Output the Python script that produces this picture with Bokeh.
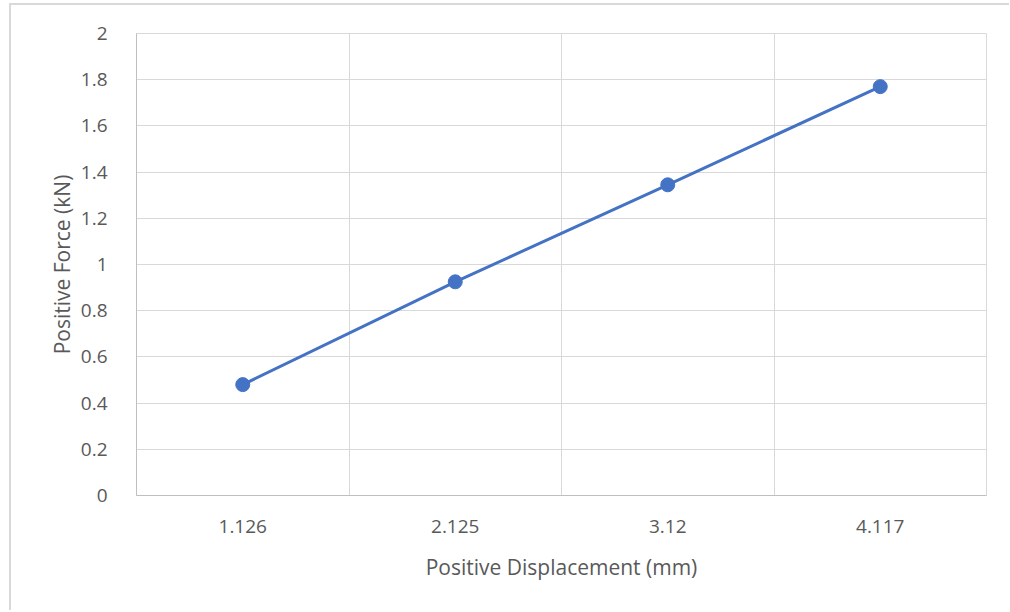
from bokeh.plotting import figure
from bokeh.models import Range1d, FixedTicker, CustomJSTickFormatter, ColumnDataSource
from bokeh.embed import file_html
from bokeh.resources import INLINE

categories = ["1.126", "2.125", "3.12", "4.117"]
force_kn = [0.48, 0.925, 1.345, 1.77]
y_ticks = [0, 0.2, 0.4, 0.6, 0.8, 1.0, 1.2, 1.4, 1.6, 1.8, 2.0]

pos = list(range(1, len(categories) + 1))
src = ColumnDataSource(dict(x=pos, y=force_kn, cat=categories))

FONT = "Open Sans"
TXT = "#595959"

p = figure(width=1000, height=607, output_backend="svg", toolbar_location=None,
           x_range=Range1d(0.5, len(categories) + 0.5), y_range=Range1d(0, 2))
p.styles = {"margin-left": "9px", "margin-top": "3px",
            "border-left": "2px solid #d9d9d9", "border-top": "2px solid #d9d9d9"}
p.min_border_left = 125
p.min_border_right = 25
p.min_border_top = 28
p.min_border_bottom = 117
p.outline_line_color = "#d9d9d9"
p.outline_line_width = 1
p.background_fill_color = "white"
p.border_fill_color = "white"

p.line("x", "y", source=src, line_color="#4472C4", line_width=3)
p.scatter("x", "y", source=src, size=14, fill_color="#4472C4", line_color="#4472C4")

p.xaxis.ticker = FixedTicker(ticks=pos)
p.xaxis.major_label_overrides = {i: c for i, c in zip(pos, categories)}
p.xaxis.major_tick_line_color = None
p.xaxis.minor_tick_line_color = None
p.xaxis.axis_line_color = "#bfbfbf"
p.xaxis.axis_line_width = 1
p.xaxis.major_label_standoff = 18
p.xaxis.axis_label = "Positive Displacement (mm)"
p.xaxis.axis_label_standoff = 17

p.yaxis.ticker = FixedTicker(ticks=y_ticks)
p.yaxis.formatter = CustomJSTickFormatter(code="return tick.toFixed(1).replace(/\\.0$/, '');")
p.yaxis.major_tick_line_color = None
p.yaxis.minor_tick_line_color = None
p.yaxis.axis_line_color = "#bfbfbf"
p.yaxis.major_label_standoff = 23
p.yaxis.axis_label = "Positive Force (kN)"
p.yaxis.axis_label_standoff = 2

for ax in (p.xaxis, p.yaxis):
    ax.major_label_text_font = FONT
    ax.major_label_text_font_size = "19px"
    ax.major_label_text_color = TXT
    ax.axis_label_text_font = FONT
    ax.axis_label_text_font_size = "21px"
    ax.axis_label_text_font_style = "normal"
    ax.axis_label_text_color = TXT

p.xgrid.ticker = FixedTicker(ticks=[i + 0.5 for i in pos])
p.xgrid.grid_line_color = "#d9d9d9"
p.ygrid.ticker = FixedTicker(ticks=y_ticks)
p.ygrid.grid_line_color = "#d9d9d9"

open("out.html", "w").write(file_html(p, INLINE))
